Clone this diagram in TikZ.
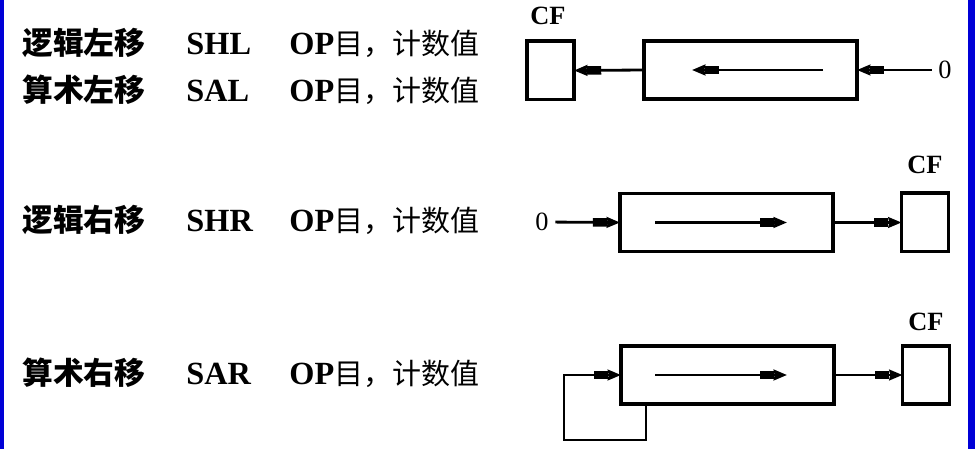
\documentclass[tikz,border=0pt]{standalone}
\usepackage{fontspec}
\setmainfont{Liberation Serif}
\newfontfamily\cjk{Noto Sans CJK SC}
\usepackage{tikz}
\usetikzlibrary{arrows.meta}
\usetikzlibrary{calc}
\definecolor{frameblue}{RGB}{0,0,215}
\tikzset{
every picture/.style={x=0.02cm, y=-0.02cm, line width=1.6pt},
%%%%%%%%%%  Node styles
register/.style={draw, line width=2pt, minimum width=4.26cm,
                 minimum height=1.16cm, inner sep=0, outer sep=0},
flag/.style={draw, line width=2pt, minimum width=0.94cm,
             minimum height=1.17cm, inner sep=0, outer sep=0},
flaglabel/.style={inner sep=1pt, font=\bfseries\fontsize{15}{16}\selectfont},
digit/.style={inner sep=3pt, font=\fontsize{15}{16}\selectfont},
%%%% text columns:
mnemonic/.style={anchor=base west, inner sep=0,
                 font=\cjk\bfseries\fontsize{17.5}{20}\selectfont},
opcode/.style={anchor=base west, inner sep=0,
               font=\bfseries\fontsize{18.4}{20}\selectfont},
operand/.style={anchor=base west, inner sep=0,
                font=\bfseries\fontsize{18.4}{20}\selectfont},
%%%%%%% Arrow style
shiftarrow/.style={-{Rectangle[length=8pt,width=4.8pt]Stealth[length=7.5pt,width=6pt,inset=0.5pt]}},
inner arrow/.style={shiftarrow, line width=1.7pt}
}
\newcommand{\argtext}{OP{\cjk\mdseries\fontsize{16.5}{18}\selectfont 目，计数值}}

\begin{document}
\begin{tikzpicture}
\useasboundingbox (0,0) rectangle (975,449);
\fill[frameblue] (0,0) rectangle (4,449);
\fill[frameblue] (968,0) rectangle (975,449);
% instruction list
\node[mnemonic] (name1) at (21,55) {逻辑左移};
\node[opcode] (op1) at (185,55) {SHL};
\node[operand] (arg1) at (288,55) {\argtext};
\node[mnemonic] (name2) at (21,102) {算术左移};
\node[opcode] (op2) at (185,102) {SAL};
\node[operand] (arg2) at (288,102) {\argtext};
\node[mnemonic] (name3) at (21,232) {逻辑右移};
\node[opcode] (op3) at (185,232) {SHR};
\node[operand] (arg3) at (288,232) {\argtext};
\node[mnemonic] (name4) at (21,385) {算术右移};
\node[opcode] (op4) at (185,385) {SAR};
\node[operand] (arg4) at (288,385) {\argtext};
% left shift
\node[register] (reg1) at (750.5,70) {};
\node[flag] (cf1) at (550.5,70.5) {};
\node[flaglabel] (cf1lab) at (548,16) {CF};
\node[digit] (zero1) at (945,70) {0};
\draw[shiftarrow] (zero1) -- (reg1.east);
\draw[shiftarrow] (reg1.west) -- (cf1.east);
\draw[inner arrow] ($(reg1.center)+(72.5,0)$) -- ($(reg1.center)+(-58.5,0)$);
% logical right shift
\node[register] (reg3) at (726.5,222.5) {};
\node[flag] (cf3) at (925,222.5) {};
\node[flaglabel] (cf3lab) at (925,165) {CF};
\node[digit] (zero3) at (542,222) {0};
\draw[shiftarrow] (zero3) -- (reg3.west);
\draw[shiftarrow] (reg3.east) -- (cf3.west);
\draw[inner arrow] ($(reg3.center)+(-71.5,0)$) -- ($(reg3.center)+(60.5,0)$);
% arithmetic right shift
\node[register] (reg4) at (727.5,375) {};
\node[flag] (cf4) at (926,375) {};
\node[flaglabel] (cf4lab) at (926,322) {CF};
\draw[shiftarrow] ($(reg4.south west)+(25,0)$) -- ++(0,36)
      -| ($(reg4.west)+(-57,0)$) -- (reg4.west);
\draw[shiftarrow] (reg4.east) -- (cf4.west);
\draw[inner arrow] ($(reg4.center)+(-72.5,0)$) -- ($(reg4.center)+(59.5,0)$);
\end{tikzpicture}
\end{document}
